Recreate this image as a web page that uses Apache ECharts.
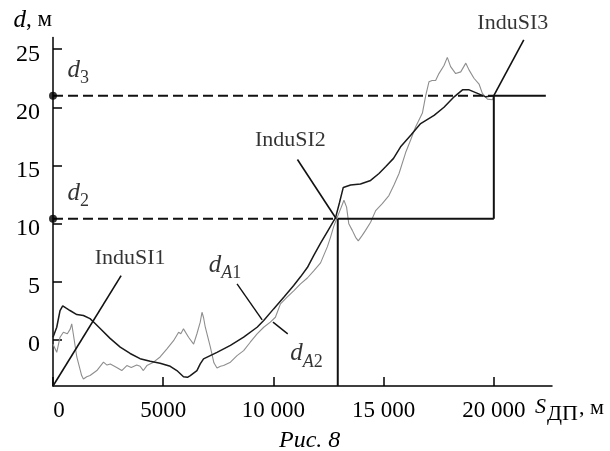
<!DOCTYPE html>
<html><head><meta charset="utf-8">
<script src="https://cdn.jsdelivr.net/npm/echarts@6/dist/echarts.min.js"></script>
<style>html,body{margin:0;padding:0;background:#fff}#c{width:610px;height:451px}</style>
</head><body><div id="c"></div>
<script>
// ---- data ----
const xTicks = [0, 5000, 10000, 15000, 20000];
const yTicks = [0, 5, 10, 15, 20, 25];
// smooth (black) curve d_A1: [S, d]
const curveA1 = [
[0,0.2],[170,1.06],[320,2.5],[440,2.9],[600,2.7],[770,2.5],[1080,2.15],[1380,2.07],[1680,1.8],[1900,1.4],
[2140,0.95],[2590,0.1],[3050,-0.65],[3500,-1.2],[3950,-1.65],[4410,-1.87],[4860,-2.04],[5320,-2.3],[5620,-2.67],
[5920,-3.2],[6100,-3.25],[6230,-3.1],[6530,-2.67],[6680,-2.1],[6830,-1.66],[7440,-1.1],[8050,-0.5],[8650,0.2],
[9260,1.06],[9560,1.64],[10010,2.64],[10470,3.65],[10920,4.66],[11230,5.4],[11540,6.2],[11820,7.2],[12140,8.3],
[12450,9.3],[12820,10.5],[13000,11.8],[13170,13.1],[13500,13.3],[13950,13.4],[14410,13.7],[14790,14.3],[15100,14.9],
[15450,15.6],[15770,16.6],[16230,17.6],[16680,18.6],[17290,19.3],[17740,20.0],[18200,20.9],[18580,21.5],[18880,21.5],
[19260,21.2],[19630,20.9],[20000,21.0]
];
// noisy (grey) curve d_A2: [S, d]
const curveA2 = [
[0,-0.4],[170,-1.1],[320,0.2],[470,0.63],[650,0.5],[780,0.9],[850,1.35],[920,0.5],[1080,-1.5],[1300,-3.1],[1380,-3.4],
[1530,-3.2],[1680,-3.1],[1990,-2.67],[2290,-1.95],[2450,-2.2],[2600,-2.1],[2890,-2.4],[3120,-2.67],[3350,-2.24],
[3550,-2.4],[3800,-2.2],[3950,-2.3],[4100,-2.67],[4260,-2.24],[4560,-1.95],[4860,-1.5],[5170,-0.8],[5470,-0.1],
[5700,0.63],[5800,0.5],[5920,0.92],[6150,0.2],[6380,-0.4],[6530,0.5],[6680,1.5],[6760,2.35],[6830,1.9],[6910,1.06],
[7140,-0.66],[7300,-2.0],[7440,-2.45],[7600,-2.3],[7740,-2.24],[8050,-1.95],[8350,-1.38],[8650,-0.95],[8950,-0.23],
[9260,0.49],[9560,1.06],[9860,1.5],[10090,1.92],[10320,3.07],[10620,3.65],[10920,4.2],[11230,4.8],[11540,5.3],
[11820,5.9],[12140,6.6],[12450,8.0],[12590,8.8],[12730,9.7],[12890,10.5],[13080,11.4],[13200,12.0],[13320,11.4],
[13420,9.97],[13580,9.4],[13730,8.8],[13850,8.5],[14030,8.97],[14180,9.4],[14410,10.1],[14640,11.1],[14940,11.7],
[15240,12.4],[15470,13.3],[15700,14.3],[16000,16.1],[16230,17.2],[16450,18.3],[16760,19.5],[16910,21.0],[17060,22.2],
[17200,22.3],[17360,22.3],[17510,22.9],[17740,23.6],[17890,24.3],[18040,23.5],[18270,22.9],[18500,23.05],[18730,23.8],
[18880,23.2],[19100,22.5],[19330,22.0],[19480,21.2],[19710,20.7],[19940,20.65],[20000,21.0]
];
// threshold levels and switch points
const levelD2 = 10.4, levelD3 = 21.0;
const switch2 = 12920, switch3 = 20000, sEnd = 22360, yMin = -4;
// leader lines
const leaderInduSI1 = [[0,-4],[3090,5.5]];
const leaderInduSI2 = [[11090,15.5],[12850,10.4]];
const leaderInduSI3 = [[20000,21],[21360,25.8]];
const leaderA1 = [[8350,4.8],[9490,1.7]];
const leaderA2 = [[9980,1.5],[10650,0.49]];
// annotation texts and anchors [S, d]
const notes = [
  {text:'InduSI1', at:[3500,7.0]},
  {text:'InduSI2', at:[10770,17.2]},
  {text:'InduSI3', at:[20860,27.2]},
  {text:'{i|d}{s|3}', at:[1140,23.0]},
  {text:'{i|d}{s|2}', at:[1140,12.4]},
  {text:'{i|d}{si|A}{s|1}', at:[7800,6.2]},
  {text:'{i|d}{si|A}{s|2}', at:[11500,-1.4]}
];

// ---- chart ----
const FONT = '"Liberation Serif", "Times New Roman", Tinos, serif';
const chart = echarts.init(document.getElementById('c'), null, {renderer:'canvas'});
const blk = '#111';
function seg(data, dashed, w){
  return {type:'line', data:data, symbol:'none', silent:true, animation:false, clip:false,
    lineStyle:{color:blk, width:w||2, type: dashed?[10,5]:'solid'}, z:5};
}
const richStyle = {
  i:{fontFamily:FONT, fontSize:25, fontStyle:'italic', color:'#000', verticalAlign:'bottom', padding:[0,0,5,0]},
  s:{fontFamily:FONT, fontSize:18, color:'#000', verticalAlign:'bottom'},
  si:{fontFamily:FONT, fontSize:18, fontStyle:'italic', color:'#000', verticalAlign:'bottom'}
};
function fmtX(v){
  if (v === 0) return '{z|0}';
  const s = String(v);
  return v >= 10000 ? s.slice(0, s.length-3) + ' ' + s.slice(-3) : s;
}
chart.setOption({
  animation:false,
  grid:{left:53, right:58, top:37.6, bottom:65},
  xAxis:{type:'value', min:0, max:22640,
    axisLine:{onZero:false, lineStyle:{color:'#000', width:1.5}},
    axisTick:{inside:true, length:9, lineStyle:{color:'#000', width:1.5}, customValues:xTicks},
    axisLabel:{customValues:xTicks, formatter:fmtX, color:'#000', fontFamily:FONT, fontSize:23, margin:13,
      rich:{z:{fontFamily:FONT, fontSize:23, color:'#000', padding:[0,0,0,12]}}},
    splitLine:{show:false},
    name:'{S|S}{sub|ДП}{n|, м}', nameLocation:'end', nameGap:-17,
    nameTextStyle:{align:'left', verticalAlign:'top', padding:[10,0,0,0],
      rich:{S:{fontFamily:FONT, fontSize:22, fontStyle:'italic', color:'#000', verticalAlign:'bottom', padding:[0,1,7,0]},
            sub:{fontFamily:FONT, fontSize:22, color:'#000', verticalAlign:'bottom'},
            n:{fontFamily:FONT, fontSize:22, color:'#000', verticalAlign:'bottom', padding:[0,0,6,1]}}}
  },
  yAxis:{type:'value', min:yMin, max:26,
    axisLine:{onZero:false, lineStyle:{color:'#000', width:1.5}},
    axisTick:{inside:true, length:9, lineStyle:{color:'#000', width:1.5}, customValues:yTicks},
    axisLabel:{customValues:yTicks, color:'#000', fontFamily:FONT, fontSize:24, margin:13,
      verticalAlign:'top', lineHeight:10},
    splitLine:{show:false},
    name:'{i|d}{n|, м}', nameLocation:'end', nameGap:5,
    nameTextStyle:{align:'right', padding:[0,1,0,0],
      rich:{i:{fontFamily:FONT, fontSize:25, fontStyle:'italic', color:'#000'},
            n:{fontFamily:FONT, fontSize:23, color:'#000'}}}
  },
  graphic:[{type:'text', left:279, top:429, style:{text:'Рис. 8', font:'italic 24px "Liberation Serif"', fill:'#000'}}],
  series:[
    {type:'line', name:'dA2', data:curveA2, symbol:'none', animation:false, silent:true,
      lineStyle:{color:'#8e8e8e', width:1.1}, z:3},
    {type:'line', name:'dA1', data:curveA1, symbol:'none', animation:false, silent:true,
      lineStyle:{color:'#1a1a1a', width:1.5}, z:4},
    seg([[0,levelD3],[switch3,levelD3]], true),
    seg([[switch3,levelD3],[sEnd,levelD3]], false),
    seg([[0,levelD2],[switch2,levelD2]], true),
    seg([[switch2,levelD2],[switch3,levelD2]], false),
    seg([[switch2,yMin],[switch2,levelD2]], false),
    seg([[switch3,levelD2],[switch3,levelD3]], false),
    seg(leaderInduSI1, false, 1.6),
    seg(leaderInduSI2, false, 1.6),
    seg(leaderInduSI3, false, 1.6),
    seg(leaderA1, false, 1.4),
    seg(leaderA2, false, 1.4),
    {type:'scatter', data:[[0,levelD3],[0,levelD2]], symbolSize:8, itemStyle:{color:'#000'}, z:6, clip:false, silent:true},
    {type:'scatter', clip:false, silent:true, symbolSize:1, itemStyle:{color:'rgba(0,0,0,0)'}, z:7,
      data: notes.map(n => ({value:n.at, label:{show:true, position:'inside', formatter:n.text,
        fontFamily:FONT, fontSize:22, color:'#000', rich:richStyle}}))}
  ]
});
</script></body></html>
